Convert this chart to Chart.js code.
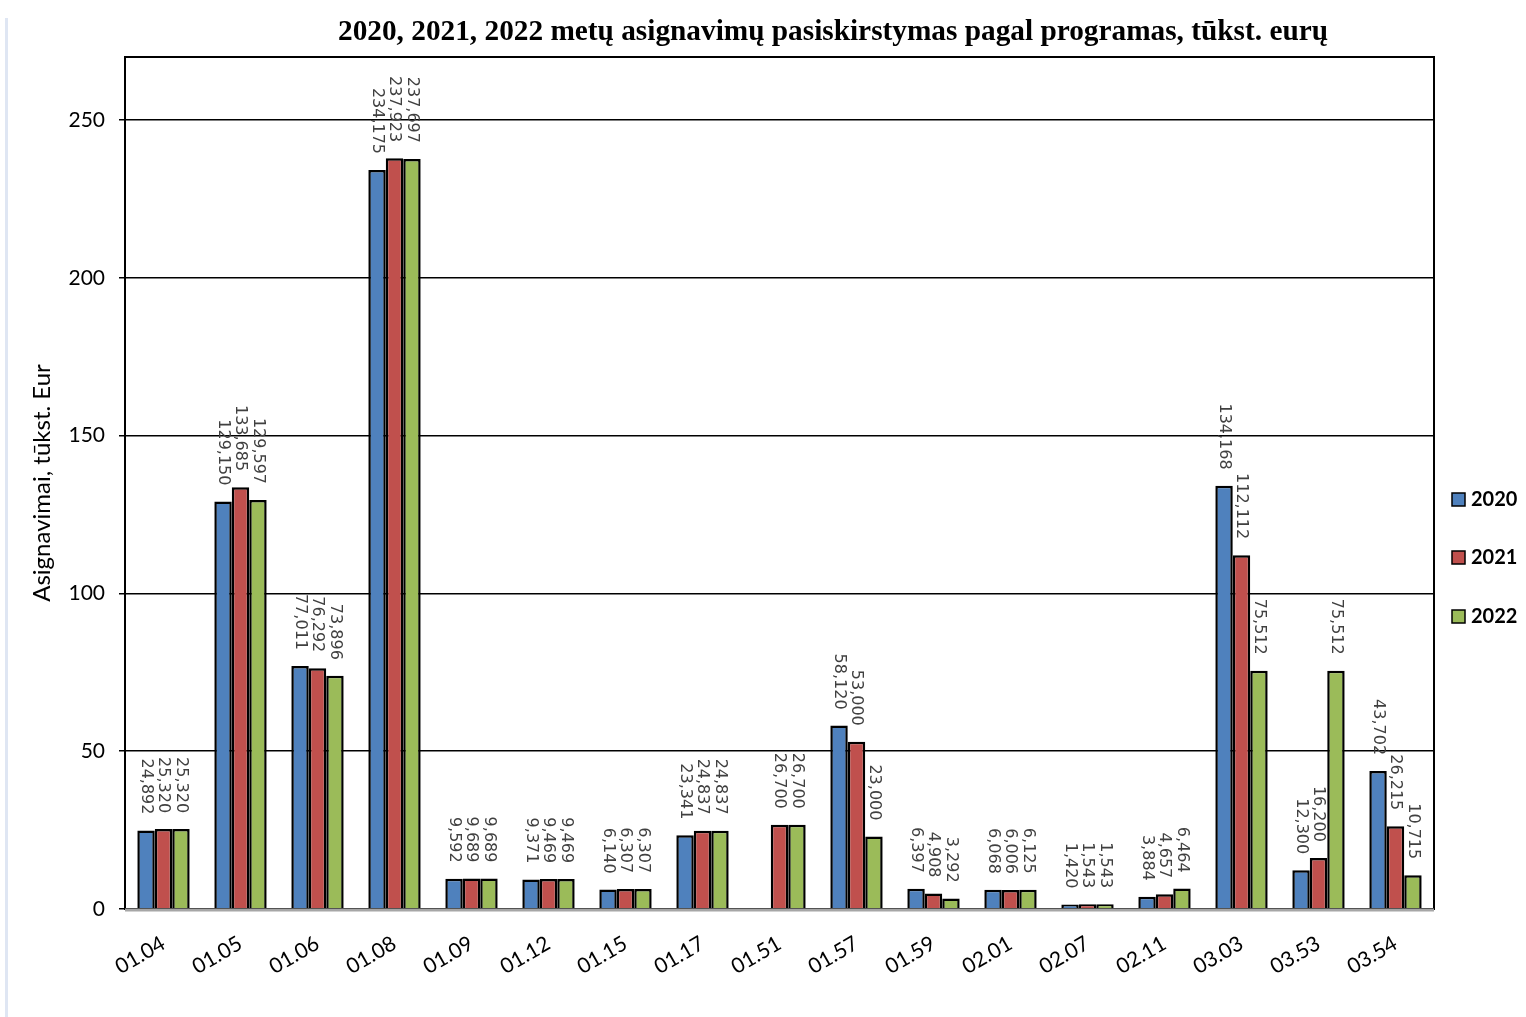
<!DOCTYPE html>
<html>
<head>
<meta charset="utf-8">
<script src="https://cdn.jsdelivr.net/npm/chart.js@4/dist/chart.umd.min.js"></script>
<style>
  html, body { margin: 0; padding: 0; background: #fff; }
  #wrap { position: relative; width: 1526px; height: 1017px; }
  #wrap:before { content: ""; position: absolute; left: 5px; top: 18px; bottom: 0; width: 3px; background: #dfe6f3; }
</style>
</head>
<body>
<div id="wrap"><canvas id="c" width="1526" height="1017"></canvas></div>
<script>
// Asignavimai pagal programas, tūkst. eurų
const programs = ["01.04", "01.05", "01.06", "01.08", "01.09", "01.12", "01.15", "01.17", "01.51",
  "01.57", "01.59", "02.01", "02.07", "02.11", "03.03", "03.53", "03.54"];
const y2020 = [24.892, 129.150, 77.011, 234.175, 9.592, 9.371, 6.140, 23.341, null,
  58.120, 6.397, 6.068, 1.420, 3.884, 134.168, 12.300, 43.702];
const y2021 = [25.320, 133.685, 76.292, 237.923, 9.689, 9.469, 6.307, 24.837, 26.700,
  53.000, 4.908, 6.006, 1.543, 4.657, 112.112, 16.200, 26.215];
const y2022 = [25.320, 129.597, 73.896, 237.697, 9.689, 9.469, 6.307, 24.837, 26.700,
  23.000, 3.292, 6.125, 1.543, 6.464, 75.512, 75.512, 10.715];
const years = ["2020", "2021", "2022"];
const colors = ["#4F81BD", "#C0504D", "#9BBB59"];

const TITLE = "2020, 2021, 2022 metų asignavimų pasiskirstymas pagal programas, tūkst. eurų";
const fmt = (v) => v.toFixed(3).replace(".", ",");

// pavadinimas, rėmelis, reikšmės ir legenda piešiami ranka
const extras = {
  id: "extras",
  afterDraw(chart) {
    const ctx = chart.ctx, a = chart.chartArea;
    ctx.save();
    // title (siauresnis, aukštesnis šriftas kaip originale)
    ctx.font = "bold 30px 'Liberation Serif'";
    ctx.fillStyle = "#000";
    ctx.textAlign = "center";
    ctx.textBaseline = "middle";
    const w = ctx.measureText(TITLE).width;
    ctx.save();
    ctx.translate(833, 32);
    ctx.scale(990 / w, 1);
    ctx.fillText(TITLE, 0, 0);
    ctx.restore();
    // plot frame
    ctx.strokeStyle = "#000";
    ctx.lineWidth = 2;
    ctx.strokeRect(a.left, a.top, a.right - a.left, a.bottom - a.top);
    ctx.strokeStyle = "#a6a6a6";
    ctx.lineWidth = 3;
    ctx.beginPath(); ctx.moveTo(a.left, a.bottom + 1); ctx.lineTo(a.right, a.bottom + 1); ctx.stroke();
    // rotated data labels
    ctx.font = "16px 'DejaVu Sans'";
    ctx.fillStyle = "#404040";
    ctx.textAlign = "right";
    ctx.textBaseline = "middle";
    chart.data.datasets.forEach((ds, i) => {
      chart.getDatasetMeta(i).data.forEach((bar, j) => {
        const v = ds.data[j];
        if (v == null) return;
        ctx.save();
        ctx.translate(bar.x, bar.y - 16);
        ctx.rotate(Math.PI / 2);
        ctx.fillText(fmt(v), 0, 0);
        ctx.restore();
      });
    });
    // legend
    ctx.font = "bold 20px Lato";
    ctx.textAlign = "left";
    const ly = [500, 558, 617];
    chart.data.datasets.forEach((ds, i) => {
      ctx.fillStyle = ds.backgroundColor;
      ctx.fillRect(1452, ly[i] - 7, 13, 13);
      ctx.strokeStyle = "#000";
      ctx.lineWidth = 1.5;
      ctx.strokeRect(1452, ly[i] - 7, 13, 13);
      ctx.fillStyle = "#000";
      ctx.fillText(ds.label, 1471, ly[i]);
    });
    ctx.restore();
  }
};

new Chart(document.getElementById("c"), {
  type: "bar",
  data: {
    labels: programs,
    datasets: [y2020, y2021, y2022].map((d, i) => ({
      label: years[i], data: d,
      backgroundColor: colors[i], borderColor: "#000", borderWidth: 2.5,
      barPercentage: 1, categoryPercentage: 0.68,
    })),
  },
  options: {
    responsive: false, animation: false,
    layout: { padding: { left: 0, top: 57, right: 92, bottom: 0 } },
    plugins: { legend: { display: false }, title: { display: false }, tooltip: { enabled: false } },
    scales: {
      x: {
        grid: { display: false, drawTicks: false },
        border: { display: false },
        ticks: { color: "#000", font: { family: "Lato", size: 21 }, minRotation: 30, maxRotation: 30, padding: 22 },
        afterFit: (s) => { s.height = 108; },
      },
      y: {
        min: 0, max: 270,
        grid: {
          color: (c) => (c.tick.value % 50 === 0 ? "#000" : "rgba(0,0,0,0)"),
          lineWidth: 1.5, drawTicks: true, tickLength: 6,
        },
        border: { display: false },
        ticks: {
          stepSize: 50, color: "#000", padding: 14,
          font: { family: "Lato", size: 21 },
          callback: (v) => (v % 50 === 0 ? v : ""),
        },
        title: {
          display: true, text: "Asignavimai, tūkst. Eur", color: "#000",
          font: { family: "Lato", size: 24 }, padding: { top: 28, bottom: 0 },
        },
        afterFit: (s) => { s.width = 125; },
      },
    },
  },
  plugins: [extras],
});
</script>
</body>
</html>
